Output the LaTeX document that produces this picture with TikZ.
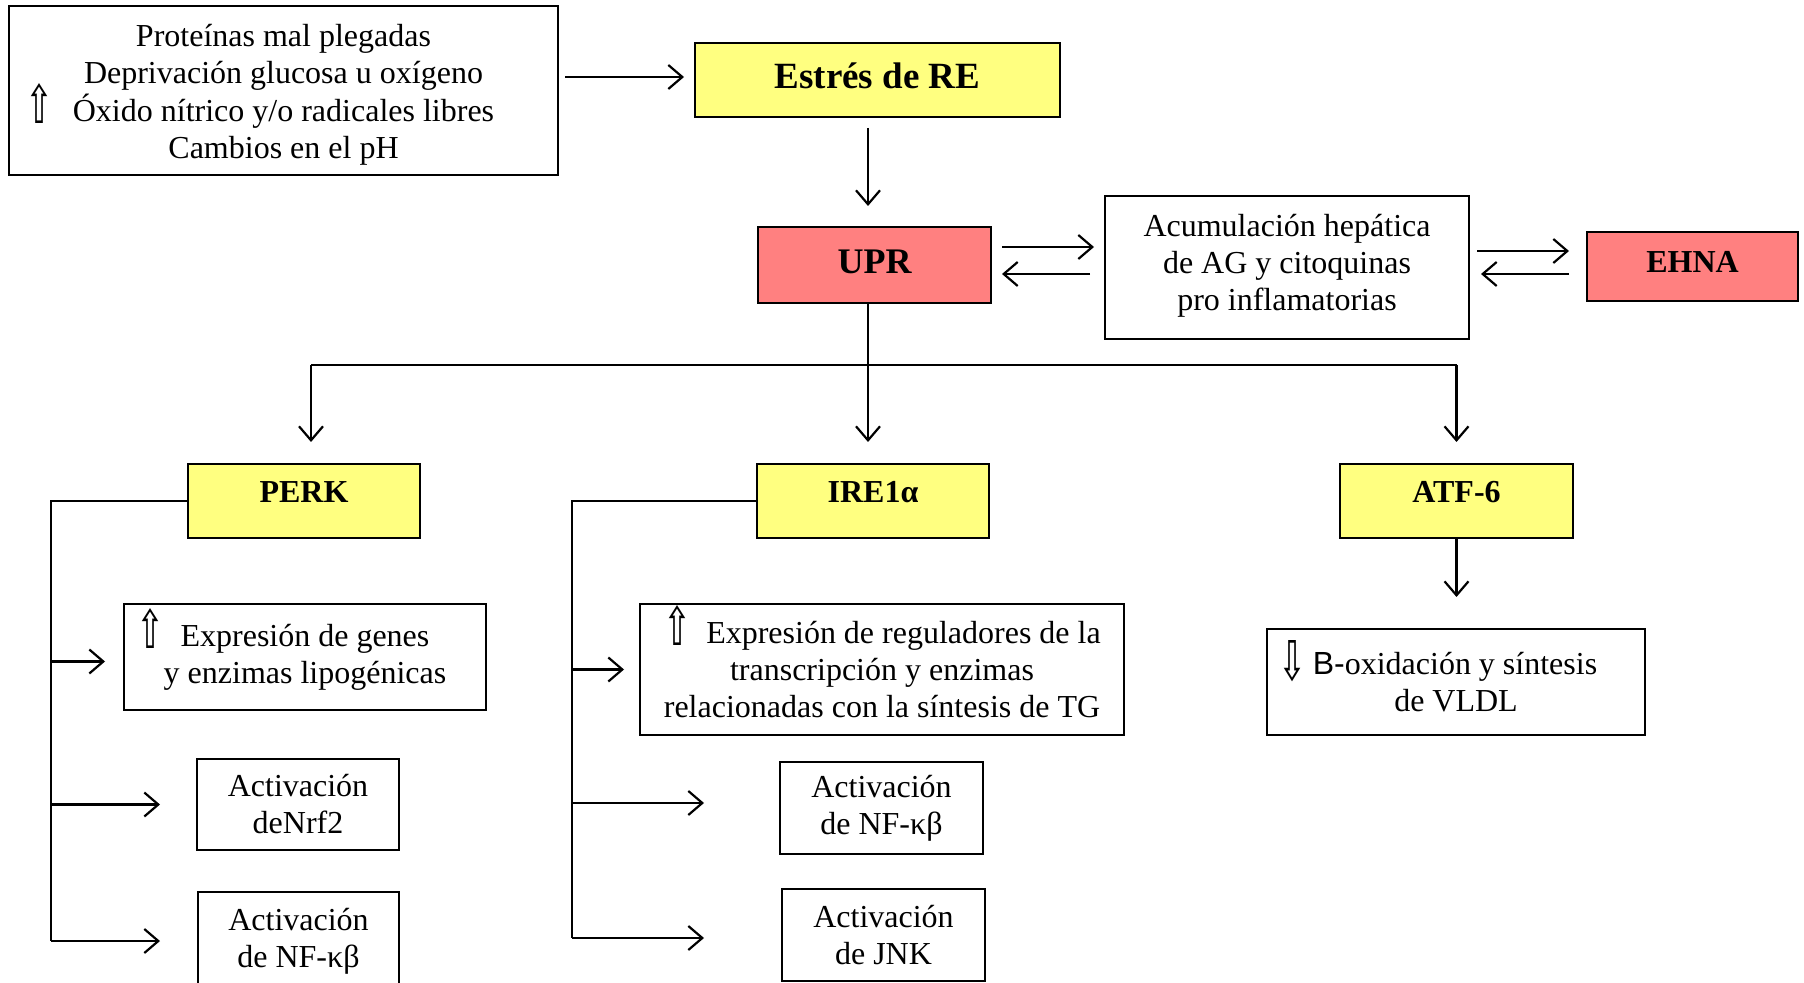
\documentclass[tikz,border=0pt]{standalone}
\usepackage{graphicx}
\usepackage{fontspec}
\setmainfont{Liberation Serif}
\newfontfamily\dejavu{DejaVu Sans}
\newfontfamily\arialf{Liberation Sans}
\usetikzlibrary{arrows.meta}
\definecolor{boxyellow}{RGB}{255,255,128}
\definecolor{boxred}{RGB}{255,128,128}
\newcommand{\uparr}{\raisebox{-1pt}[0pt][0pt]{\resizebox{14pt}{20pt}{\dejavu ⇧}}}
\newcommand{\downarr}{\raisebox{-3pt}[0pt][0pt]{\resizebox{14pt}{20pt}{\dejavu ⇩}}}
\newcommand{\shiftedlines}[2]{\raisebox{#1}[\height][\depth]{\begin{tabular}{@{}c@{}}#2\end{tabular}}}
\tikzset{
  box/.style={draw, line width=1pt, align=center, inner sep=2pt,
    font=\fontsize{16pt}{18.5pt}\selectfont},
  ybox/.style={box, fill=boxyellow, font=\fontsize{16pt}{18.5pt}\selectfont\bfseries,
    text height=11pt, text depth=9pt},
  rbox/.style={box, fill=boxred},
  arr/.style={line width=1.1pt, -{Straight Barb[length=7pt,width=12pt,line width=1.1pt]}},
  ln/.style={line width=1.1pt},
}
\begin{document}
\begin{tikzpicture}[x=0.5pt,y=-0.5pt]
\useasboundingbox (0,0) rectangle (1804,983);
\clip (0,0) rectangle (1804,983);

% top row
\node[box, minimum width=274.5pt, minimum height=84.5pt] (causes) at (283.5,90.5)
  {\shiftedlines{-2.3pt}{Proteínas mal plegadas\\Deprivación glucosa u oxígeno\\\llap{\uparr\hspace{9.5pt}}Óxido nítrico y/o radicales libres\\Cambios en el pH}};
\node[box, fill=boxyellow, minimum width=182.5pt, minimum height=37pt,
  font=\fontsize{18.5pt}{20pt}\selectfont\bfseries, text height=13pt, text depth=4.6pt] (estres) at (877.5,80) {Estrés de RE};
\node[rbox, minimum width=116.5pt, minimum height=38pt,
  font=\fontsize{18pt}{20pt}\selectfont\bfseries, text height=12.2pt, text depth=4pt] (upr) at (874.5,265) {UPR};
\node[box, minimum width=182pt, minimum height=71.5pt] (acum) at (1287,267.5)
  {\shiftedlines{0.5pt}{Acumulación hepática\\de AG y citoquinas\\pro inflamatorias}};
\node[rbox, minimum width=105.5pt, minimum height=34.5pt,
  font=\fontsize{16pt}{18pt}\selectfont\bfseries, text height=10.6pt, text depth=4.4pt] (ehna) at (1692.5,266.5) {EHNA};

% second level
\node[ybox, minimum width=116pt, minimum height=37pt] (perk) at (304,501) {PERK};
\node[ybox, minimum width=116pt, minimum height=37pt] (ire) at (873,501) {IRE1α};
\node[ybox, minimum width=116.5pt, minimum height=37pt] (atf) at (1456.5,501) {ATF-6};

% PERK branch
\node[box, minimum width=181pt, minimum height=53pt] (pexp) at (305,657)
  {\llap{\uparr\hspace{8pt}}Expresión de genes\\y enzimas lipogénicas};
\node[box, minimum width=101pt, minimum height=45.5pt] (pnrf) at (298,804.5)
  {Activación\\deNrf2};
\node[box, minimum width=100.5pt, minimum height=49pt] (pnf) at (298.5,941)
  {Activación\\de NF-κβ};

% IRE1 branch
\node[box, minimum width=242pt, minimum height=65.5pt] (iexp) at (882,669.5)
  {\uparr\hspace{7.5pt}Expresión de reguladores de la\\transcripción y enzimas\\relacionadas con la síntesis de TG};
\node[box, minimum width=101.5pt, minimum height=46pt] (inf) at (881.5,808)
  {Activación\\de NF-κβ};
\node[box, minimum width=101.5pt, minimum height=46pt] (ijnk) at (883.5,935)
  {Activación\\de JNK};

% ATF-6 branch
\node[box, minimum width=189pt, minimum height=53pt] (boxid) at (1456,682)
  {\downarr\hspace{3pt}{\arialf B-}oxidación y síntesis\kern18pt\\de VLDL};

% connectors top
\draw[arr, shorten <=3pt, shorten >=5pt] ([yshift=1.5pt]causes.east |- estres.west) -- ([yshift=1.5pt]estres.west);
\draw[arr, shorten <=5pt, shorten >=10pt] ([xshift=-3.25pt]upr.north |- estres.south) -- ([xshift=-3.25pt]upr.north);
\draw[arr, shorten <=5pt, shorten >=5pt] ([yshift=9pt]upr.east) -- ([yshift=9pt]upr.east -| acum.west);
\draw[arr, shorten <=7pt, shorten >=5pt] ([yshift=-4.5pt]upr.east -| acum.west) -- ([yshift=-4.5pt]upr.east);
\draw[arr, shorten <=3.5pt, shorten >=8.5pt] ([yshift=7.75pt]acum.east |- ehna.west) -- ([yshift=7.75pt]ehna.west);
\draw[arr, shorten <=8.5pt, shorten >=5.5pt] ([yshift=-3.75pt]ehna.west) -- ([yshift=-3.75pt]acum.east |- ehna.west);

% tree
\coordinate (bus) at (0,365);
\draw[ln] ([xshift=-3.25pt]upr.south) -- ([xshift=-3.25pt]upr.south |- bus);
\draw[ln] ([xshift=3.5pt]perk.north |- bus) -- (atf.north |- bus);
\draw[arr, shorten >=10.5pt] ([xshift=3.5pt]perk.north |- bus) -- ([xshift=3.5pt]perk.north);
\draw[arr, shorten >=10.5pt] ([xshift=-2.5pt]ire.north |- bus) -- ([xshift=-2.5pt]ire.north);
\draw[arr, shorten >=10.5pt] (atf.north |- bus) -- (atf.north);

% PERK bracket
\coordinate (pbr) at (51,0);
\draw[ln] (perk.west) -- (perk.west -| pbr) -- (pbr |- pnf.west);
\draw[arr, shorten >=9pt] ([yshift=-2.25pt]pbr |- pexp.west) -- ([yshift=-2.25pt]pexp.west);
\draw[arr, shorten >=18pt] (pbr |- pnrf.west) -- (pnrf.west);
\draw[arr, shorten >=18.5pt] (pbr |- pnf.west) -- (pnf.west);

% IRE1 bracket
\coordinate (ibr) at (572,0);
\draw[ln] (ire.west) -- (ire.west -| ibr) -- ([yshift=-1.5pt]ibr |- ijnk.west);
\draw[arr, shorten >=7.5pt] (ibr |- iexp.west) -- (iexp.west);
\draw[arr, shorten >=37.5pt] ([yshift=2.5pt]ibr |- inf.west) -- ([yshift=2.5pt]inf.west);
\draw[arr, shorten >=38.5pt] ([yshift=-1.5pt]ibr |- ijnk.west) -- ([yshift=-1.5pt]ijnk.west);

% ATF-6 arrow
\draw[arr, shorten >=15.5pt] (atf.south) -- (atf.south |- boxid.north);
\end{tikzpicture}
\end{document}
